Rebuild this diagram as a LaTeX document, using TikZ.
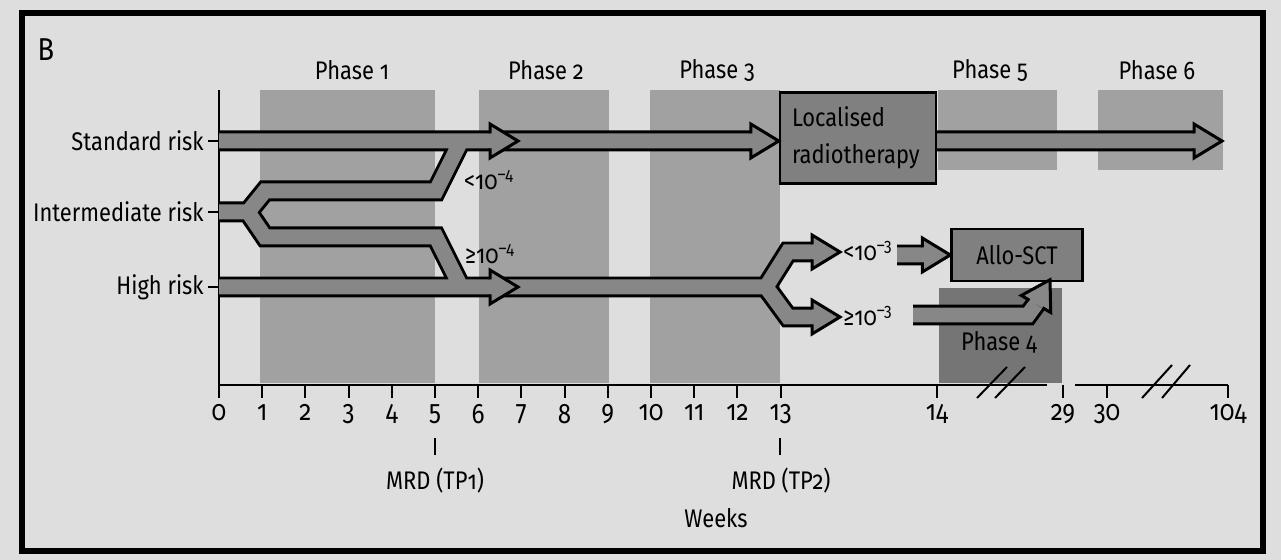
\documentclass[tikz,border=0pt]{standalone}
\usepackage{fontspec}
\setmainfont{Fira Sans}[Numbers=OldStyle, FakeStretch=0.86]
\usepackage{xcolor}
\usetikzlibrary{positioning}

\definecolor{paper}{gray}{0.87}
\definecolor{phasegray}{gray}{0.63}
\definecolor{bandgray}{gray}{0.53}
\definecolor{boxgray}{gray}{0.5}
\definecolor{phasedark}{gray}{0.46}

\begin{document}
\begin{tikzpicture}[
    x=0.02cm, y=-0.02cm,
    lbl/.style={font=\fontsize{14.5}{16}\selectfont, inner sep=0pt},
    num/.style={font=\fontsize{16}{18}\selectfont, inner sep=0pt, yshift=-3pt},
    box/.style={draw, line width=0.05cm, fill=boxgray, inner sep=0pt, font=\fontsize{14.5}{21}\selectfont},
    axis/.style={line width=0.04cm},
    band/.style={draw=black, line width=0.06cm, double=bandgray, double distance=0.30cm},
    bandhead/.pic={
        \filldraw[fill=bandgray, draw=black, line width=0.06cm] (0,-7.5) -- (0,-17) -- (28,0) -- (0,17) -- (0,7.5);
    }
]
\useasboundingbox (0,0) rectangle (1281,560);
\fill[paper] (0,0) rectangle (1281,560);
\draw[line width=0.11cm] (22,13) rectangle (1263,551);
\node[lbl, font=\fontsize{18}{20}\selectfont] (panel) at (46,50) {B};

\fill[phasegray] (260,90) rectangle (435,383);
\fill[phasegray] (479,90) rectangle (609,383);
\fill[phasegray] (650,90) rectangle (780,383);
\fill[phasegray] (938,90) rectangle (1057,170);
\fill[phasegray] (1098,90) rectangle (1223,170);
\fill[phasedark] (939,288) rectangle (1062,383);

\node[lbl] (ph1) at (352,70) {Phase 1};
\node[lbl] (ph2) at (546,70) {Phase 2};
\node[lbl] (ph3) at (717,70) {Phase 3};
\node[lbl] (ph5) at (990,70) {Phase 5};
\node[lbl] (ph6) at (1157,70) {Phase 6};
\node[lbl] (ph4) at (999,342) {Phase 4};

\draw[axis] (219,90) -- (219,398) node[num, anchor=north] {0};
\draw[axis] (219,385) -- (1047,385);
\draw[axis] (1075,385) -- (1228,385);
\foreach \w in {1,...,13}
    \draw[axis] ({219+43.2*\w},385) -- ++(0,13) node[num, anchor=north] {\w};
\foreach \x/\w in {937/14, 1063/29, 1107/30, 1228/104}
    \draw[axis] (\x,385) -- ++(0,13) node[num, anchor=north] {\w};
\draw[axis] (977,398) -- (1007,367) (995,398) -- (1025,367);
\draw[axis] (1142,398) -- (1172,365) (1162,398) -- (1190,365);

\draw[axis] (435,438) -- (435,455);
\draw[axis] (780,438) -- (780,455);
\node[lbl] (tp1) at (435,481) {MRD (TP1)};
\node[lbl] (tp2) at (781,481) {MRD (TP2)};
\node[lbl] (weeks) at (716,518) {Weeks};

\node[lbl, anchor=east] (std) at (204,141) {Standard risk};
\node[lbl, anchor=east] (int) at (204,212) {Intermediate risk};
\node[lbl, anchor=east] (high) at (204,287) {High risk};
\foreach \y in {141,212,287}
    \draw[axis] (208,\y) -- (219,\y);
\coordinate (s0) at (219,141);
\coordinate (i0) at (219,212);
\coordinate (h0) at (219,287);

\node[box, minimum width=3.12cm, minimum height=1.82cm, text width=2.64cm, align=left] (radio) at (858,138) {Localised\\radiotherapy};
\node[box, minimum width=2.62cm, minimum height=1.04cm] (allo) at (1017,255) {Allo-SCT};
\coordinate (rtin) at (s0 -| radio.west);
\coordinate (rtout) at (s0 -| radio.east);
\coordinate (end) at (1194,141);

\draw[band] (s0) -- ([xshift=-0.56cm]rtin)
    (rtout) -- (end)
    (i0) -- (248,212) -- (265,191) -- (436,191) -- (461,141) -- (490,141)
    (i0) -- (248,212) -- (265,237) -- (436,237) -- (461,287) -- (490,287)
    (h0) -- (766,287) -- (788,252) -- (812,252)
    (h0) -- (766,287) -- (788,317) -- (812,317)
    (897,255) -- ([xshift=-0.56cm]allo.west)
    (913,315) -- (1028,315) -- (1036,304);
\pic at ([xshift=-0.56cm]rtin) {bandhead};
\pic at (end) {bandhead};
\pic at (490,141) {bandhead};
\pic at (490,287) {bandhead};
\pic at (812,252) {bandhead};
\pic at (812,317) {bandhead};
\pic at ([xshift=-0.56cm]allo.west) {bandhead};
\pic[rotate=60] at (1036,304) {bandhead};

\node[lbl] (lt4) at (489,180) {<10\textsuperscript{–4}};
\node[lbl] (ge4) at (490,254) {≥10\textsuperscript{–4}};
\node[lbl] (lt3) at (868,251) {<10\textsuperscript{–3}};
\node[lbl] (ge3) at (868,316) {≥10\textsuperscript{–3}};
\end{tikzpicture}
\end{document}
